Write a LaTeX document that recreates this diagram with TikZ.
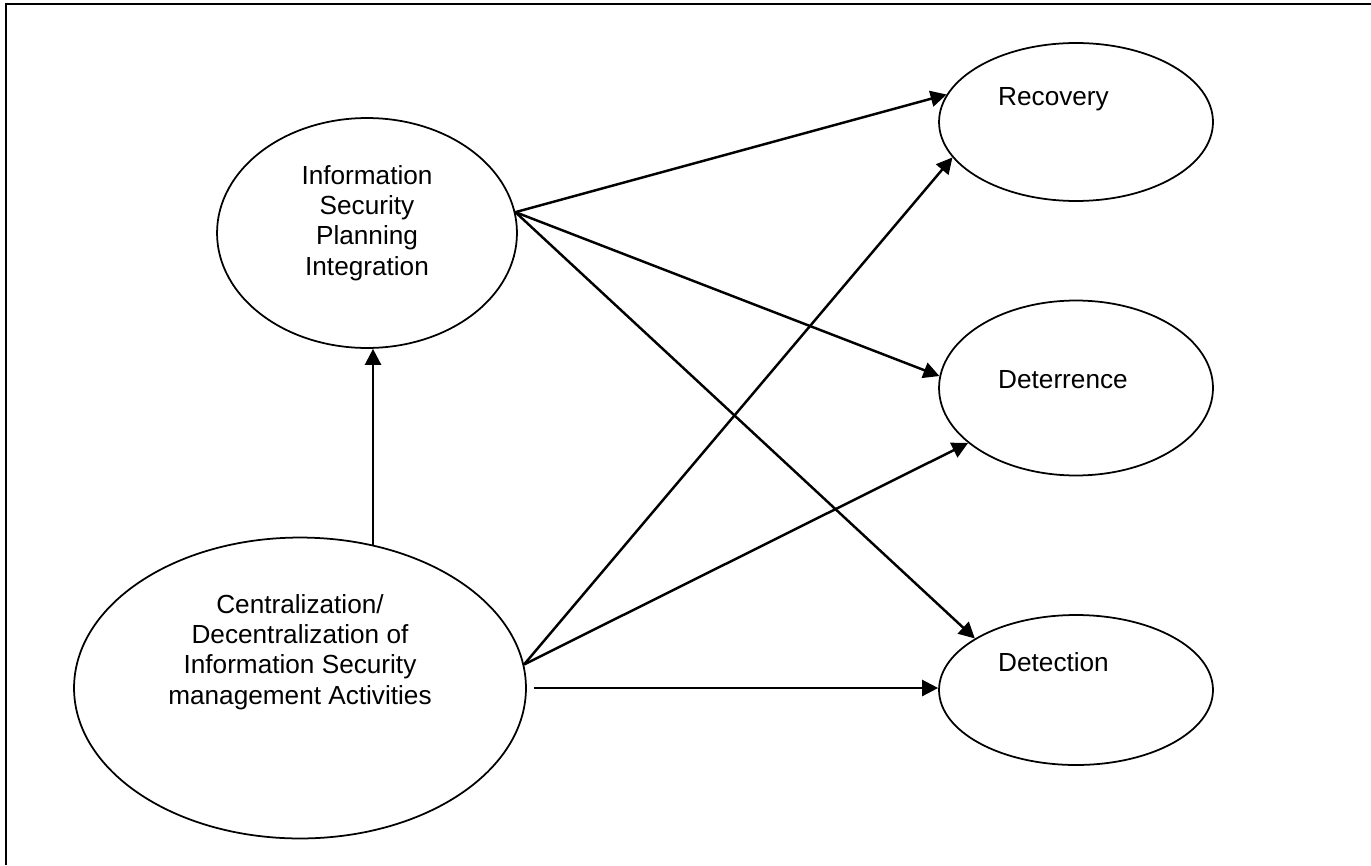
\documentclass[tikz,border=0pt]{standalone}
\usepackage{fontspec}
\setmainfont{Liberation Sans}
\usetikzlibrary{shapes.geometric,arrows.meta}

\begin{document}
\begin{tikzpicture}[x=0.02cm,y=-0.02cm,
		factor/.style={draw,ellipse,line width=1pt,inner sep=0pt},
		lbl/.style={align=center,font=\fontsize{14.9}{17.2}\selectfont},
		link/.style={line width=1.4pt,-{Triangle[length=0.32cm,width=0.32cm]}}]
				\useasboundingbox (0,0) rectangle (1371,865);
				% 外框
				\draw[line width=1.7pt] (1371,4) -- (6,4) -- (6,865);
				% 绘制椭圆
				\node[factor,minimum width=6cm,minimum height=4.6cm] (ispi) at (367,233) {};
				\node[factor,minimum width=9.04cm,minimum height=6.02cm] (cd) at (300,688) {};
				\node[factor,minimum width=5.48cm,minimum height=3.16cm] (rec) at (1076,122) {};
				\node[factor,minimum width=5.48cm,minimum height=3.5cm] (det) at (1076,388) {};
				\node[factor,minimum width=5.48cm,minimum height=3cm] (dtc) at (1076,690) {};
				% 标记文字
				\node[lbl] (ispi-t) at (367,223) {Information\\Security\\Planning\\Integration};
				\node[lbl] (cd-t) at (300,652) {Centralization/\\Decentralization of\\Information Security\\management Activities};
				\node[lbl,anchor=west] (rec-t) at (992,99) {Recovery};
				\node[lbl,anchor=west] (det-t) at (992,380) {Deterrence};
				\node[lbl,anchor=west] (dtc-t) at (992,662) {Detection};
				% 绘制箭头
				\draw[link] (cd.63) -- (cd.63 |- ispi.south);
				\draw[link] (ispi.8) -- (rec.168);
				\draw[link] (ispi.8) -- (det.175);
				\draw[link] (ispi.8) -- (dtc.153);
				\draw[link] (cd.6) -- (rec.196);
				\draw[link] (cd.6) -- (det.207);
				\draw[link] ([xshift=4pt]cd.east) -- (dtc.west |- cd.east);
			\end{tikzpicture}
\end{document}
